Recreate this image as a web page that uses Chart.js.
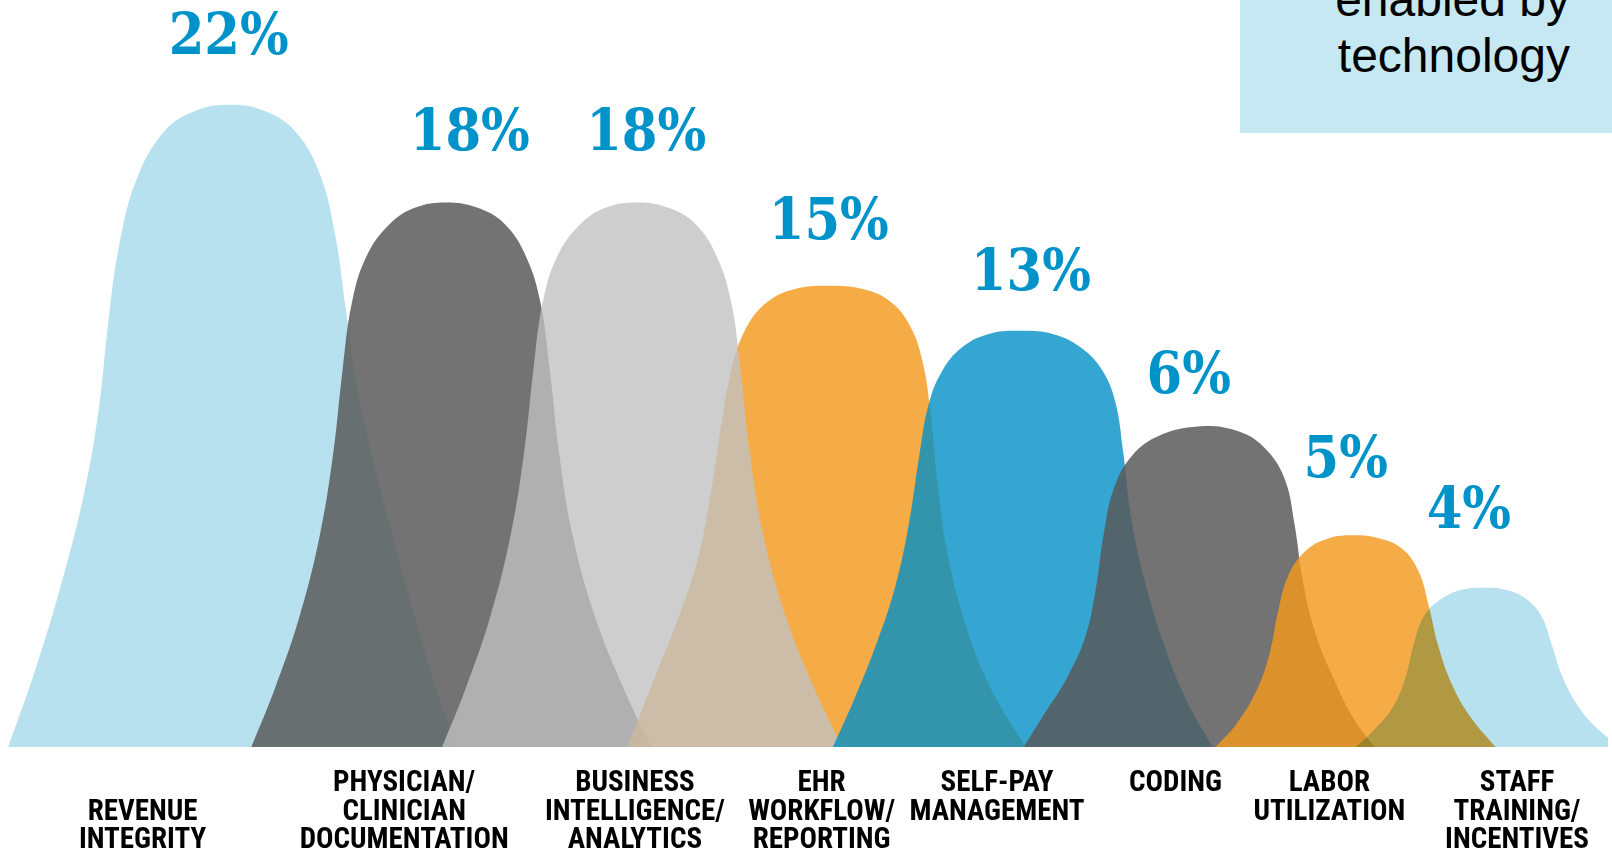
<!DOCTYPE html>
<html><head><meta charset="utf-8">
<script src="https://cdn.jsdelivr.net/npm/chart.js@4.4.1/dist/chart.umd.min.js"></script>
<style>
html,body{margin:0;padding:0;background:#fff;}
#wrap{position:relative;width:1612px;height:851px;overflow:hidden;}
#note{position:absolute;left:1240px;top:0;width:372px;height:133px;background:#c5e8f3;overflow:hidden;}
#note div{position:absolute;right:42px;top:-28px;font:48px/56px 'Liberation Sans',Arial,sans-serif;color:#000;text-align:right;white-space:nowrap;}
</style></head><body>
<div id="wrap"><canvas id="c"></canvas>
<div id="note"><div>enabled by<br>technology</div></div></div>
<script>
// ---- data ----
const categories = [
  ['REVENUE', 'INTEGRITY'],
  ['PHYSICIAN/', 'CLINICIAN', 'DOCUMENTATION'],
  ['BUSINESS', 'INTELLIGENCE/', 'ANALYTICS'],
  ['EHR', 'WORKFLOW/', 'REPORTING'],
  ['SELF-PAY', 'MANAGEMENT'],
  ['CODING'],
  ['LABOR', 'UTILIZATION'],
  ['STAFF', 'TRAINING/', 'INCENTIVES']
];
const percentValues = [22, 18, 18, 15, 13, 6, 5, 4];

// mountain outlines: x position and height above the baseline
const revenueX   = [8, 35, 62, 82, 96, 106, 116, 133, 160, 190, 224, 258, 288, 312, 327, 337, 347, 362, 385, 410, 430, 447];
const revenueH   = [0, 77, 167, 247, 327, 417, 487, 552, 599, 619, 625, 619, 599, 557, 497, 427, 357, 287, 197, 107, 42, 0];
const physicianX = [245, 268, 292, 312, 325, 334, 343, 357, 380, 405, 435, 465, 492, 513, 527, 536, 545, 558, 580, 608, 635];
const physicianH = [0, 57, 127, 207, 287, 367, 432, 477, 509, 525, 530, 525, 509, 477, 432, 367, 287, 207, 127, 57, 0];
const businessX  = [431, 454, 478, 498, 511, 520, 529, 543, 566, 591, 621, 651, 678, 699, 713, 722, 731, 744, 766, 794, 821];
const businessH  = [0, 57, 127, 207, 287, 367, 432, 477, 509, 525, 530, 525, 509, 477, 432, 367, 287, 207, 127, 57, 0];
const ehrX       = [612, 636, 660, 680, 693, 703, 713, 727, 748, 776, 808, 840, 866, 886, 899, 907, 914, 924, 942, 966, 1000];
const ehrH       = [0, 62, 122, 182, 247, 312, 367, 407, 433, 446, 449, 446, 435, 412, 377, 327, 257, 187, 117, 57, 0];
const selfPayX   = [812, 833, 855, 873, 886, 896, 905, 918, 938, 964, 995, 1026, 1052, 1073, 1087, 1095, 1103, 1116, 1134, 1156, 1182];
const selfPayH   = [0, 47, 102, 157, 217, 282, 332, 365, 389, 402, 405, 402, 390, 369, 337, 287, 222, 162, 102, 47, 0];
const codingX    = [998, 1018, 1040, 1058, 1068, 1076, 1086, 1104, 1130, 1168, 1205, 1232, 1252, 1262, 1270, 1282, 1300, 1320, 1340];
const codingH    = [0, 32, 67, 107, 152, 207, 252, 284, 303, 312, 308, 292, 262, 217, 162, 112, 67, 27, 0];
const laborX     = [1185, 1205, 1225, 1238, 1246, 1256, 1273, 1295, 1320, 1345, 1367, 1383, 1393, 1402, 1415, 1433, 1458];
const laborH     = [0, 22, 55, 92, 132, 167, 191, 203, 206, 203, 193, 171, 137, 99, 62, 30, 0];
const staffX     = [1322, 1340, 1358, 1370, 1378, 1388, 1405, 1425, 1445, 1468, 1488, 1503, 1513, 1523, 1537, 1555, 1580];
const staffH     = [0, 17, 39, 67, 99, 127, 144, 153, 155, 153, 144, 127, 99, 69, 42, 20, 0];

const outlineX = [revenueX, physicianX, businessX, ehrX, selfPayX, codingX, laborX, staffX];
const outlineH = [revenueH, physicianH, businessH, ehrH, selfPayH, codingH, laborH, staffH];

// ---- layout & style ----
const tickPositions = [139, 394, 619, 801, 972, 1146, 1296, 1479];
const tickBlankLines = [1, 0, 0, 0, 0, 0, 0, 0];
const percentAnchorX = [223, 458, 630, 808, 1005, 1159, 1312, 1432];
const percentAnchorY = [674, 581, 581, 494, 445, 345, 263, 213];
const fills = [
  '#b8e1ef',
  'rgba(89,89,89,0.845)',
  'rgba(193,193,193,0.793)',
  'rgba(243,153,30,0.814)',
  'rgba(3,144,198,0.8)',
  'rgba(89,89,89,0.845)',
  'rgba(243,153,30,0.814)',
  '#b8e1ef'
];
// bottom -> top: revenue, physician, ehr, business, self-pay, coding, labor, staff
const drawOrder = [7, 6, 4, 5, 3, 2, 1, 0];
const LABOR = 6, STAFF = 7;

const datasets = outlineX.map((xs, i) => ({
  label: categories[i].join(' '),
  data: xs.map((x, j) => ({x: x, y: outlineH[i][j]})),
  backgroundColor: fills[i],
  borderWidth: 0,
  pointRadius: 0,
  fill: 'origin',
  tension: 0.4,
  order: drawOrder[i]
}));

const blendPlugin = {
  id: 'blend',
  afterDatasetDraw(chart, args) {
    if (args.index === LABOR) chart.ctx.globalCompositeOperation = 'multiply';
    if (args.index === STAFF) chart.ctx.globalCompositeOperation = 'source-over';
  }
};

const percentPlugin = {
  id: 'percentLabels',
  afterDatasetsDraw(chart) {
    const {ctx} = chart;
    const xs = chart.scales.x, ys = chart.scales.y;
    ctx.save();
    ctx.globalCompositeOperation = 'source-over';
    ctx.font = "bold 57px 'DejaVu Serif Condensed', 'DejaVu Serif', serif";
    ctx.fillStyle = '#0093c9';
    ctx.textAlign = 'center';
    ctx.textBaseline = 'alphabetic';
    percentValues.forEach((v, i) => {
      ctx.fillText(v + '%', xs.getPixelForValue(percentAnchorX[i]), ys.getPixelForValue(percentAnchorY[i]));
    });
    ctx.restore();
  }
};

new Chart(document.getElementById('c'), {
  type: 'line',
  data: {datasets},
  options: {
    responsive: true,
    maintainAspectRatio: false,
    animation: false,
    events: [],
    layout: {padding: 0},
    plugins: {legend: {display: false}, tooltip: {enabled: false}, filler: {propagate: false}},
    scales: {
      x: {
        type: 'linear', min: 0, max: 1568,
        grid: {display: false, drawTicks: false},
        border: {display: false},
        afterBuildTicks: (scale) => { scale.ticks = tickPositions.map(v => ({value: v})); },
        afterFit: (scale) => { scale.height = 104; },
        ticks: {
          autoSkip: false, maxRotation: 0, minRotation: 0, padding: 23,
          color: '#000',
          font: {family: "'Roboto Condensed', Roboto, 'Liberation Sans', sans-serif", size: 29, weight: 'bold', lineHeight: 0.98},
          callback: (value, index) => Array(tickBlankLines[index]).fill('').concat(categories[index])
        }
      },
      y: {type: 'linear', min: 0, max: 727, display: false}
    }
  },
  plugins: [blendPlugin, percentPlugin]
});
</script>
</body></html>
